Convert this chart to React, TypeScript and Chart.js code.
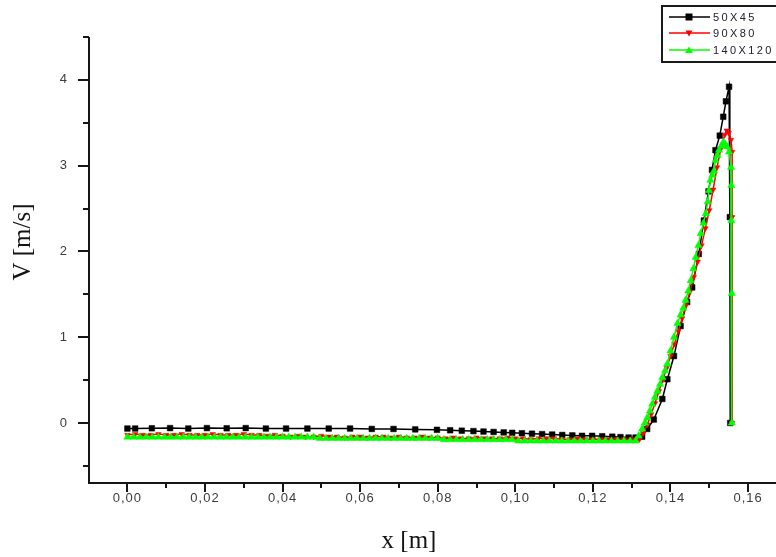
import React, { useEffect, useRef } from 'react';
import { Chart, registerables } from 'chart.js';

Chart.register(...registerables);

// Series labels (mesh sizes)
const seriesLabels = ['50X45', '90X80', '140X120'];
const seriesColors = ['#000000', '#ff0000', '#00ff00'];

// 50X45 mesh: position x [m] and velocity V [m/s]
const blackX = [
  0.0, 0.002, 0.0063, 0.011, 0.0157, 0.0205, 0.0256, 0.0305, 0.0357, 0.0409,
  0.0464, 0.0519, 0.0574, 0.063, 0.0686, 0.0742, 0.0798, 0.0832, 0.0862, 0.0892,
  0.0918, 0.0944, 0.097, 0.0992, 0.1017, 0.1043, 0.1069, 0.1095, 0.1121, 0.1147,
  0.1172, 0.1198, 0.1224, 0.125, 0.1271, 0.1292, 0.131, 0.1327, 0.134, 0.1357,
  0.1379, 0.1392, 0.1409, 0.1426, 0.1443, 0.1456, 0.1473, 0.1486, 0.1498, 0.1507,
  0.1516, 0.1527, 0.1536, 0.1543, 0.1551, 0.1553, 0.1554,
];
const blackV = [
  -0.065, -0.065, -0.062, -0.06, -0.065, -0.06, -0.062, -0.06, -0.065, -0.065,
  -0.065, -0.065, -0.065, -0.07, -0.07, -0.075, -0.08, -0.085, -0.09, -0.095,
  -0.1, -0.105, -0.11, -0.115, -0.12, -0.125, -0.13, -0.135, -0.14, -0.145,
  -0.15, -0.15, -0.155, -0.16, -0.165, -0.17, -0.17, -0.16, -0.07, 0.04,
  0.28, 0.51, 0.78, 1.13, 1.41, 1.58, 1.97, 2.36, 2.7, 2.95,
  3.18, 3.35, 3.57, 3.75, 3.92, 2.4, 0.0,
];

// 90X80 mesh
const redX = [
  0.0, 0.002, 0.004, 0.006, 0.008, 0.01, 0.012, 0.014, 0.016, 0.018,
  0.02, 0.022, 0.024, 0.026, 0.028, 0.03, 0.032, 0.034, 0.036, 0.038,
  0.04, 0.042, 0.044, 0.046, 0.048, 0.05, 0.052, 0.054, 0.056, 0.058,
  0.06, 0.062, 0.064, 0.066, 0.068, 0.07, 0.072, 0.074, 0.076, 0.078,
  0.08, 0.082, 0.084, 0.086, 0.088, 0.09, 0.092, 0.094, 0.096, 0.098,
  0.1, 0.102, 0.104, 0.106, 0.108, 0.11, 0.112, 0.114, 0.116, 0.118,
  0.12, 0.122, 0.124, 0.126, 0.128, 0.13, 0.132, 0.133, 0.134, 0.135,
  0.136, 0.137, 0.138, 0.139, 0.14, 0.141, 0.142, 0.143, 0.144, 0.145,
  0.146, 0.147, 0.148, 0.149, 0.15, 0.151, 0.152, 0.153, 0.154, 0.1545,
  0.155, 0.1556, 0.1559, 0.1559, 0.1559,
];
const redV = [
  -0.14, -0.13, -0.14, -0.14, -0.13, -0.14, -0.14, -0.13, -0.14, -0.14,
  -0.14, -0.13, -0.14, -0.14, -0.14, -0.13, -0.14, -0.14, -0.15, -0.14,
  -0.15, -0.16, -0.15, -0.16, -0.16, -0.15, -0.16, -0.16, -0.17, -0.16,
  -0.16, -0.17, -0.16, -0.16, -0.17, -0.16, -0.17, -0.17, -0.16, -0.17,
  -0.17, -0.18, -0.17, -0.18, -0.18, -0.17, -0.18, -0.18, -0.18, -0.17,
  -0.18, -0.18, -0.19, -0.18, -0.18, -0.18, -0.19, -0.19, -0.18, -0.19,
  -0.19, -0.19, -0.19, -0.19, -0.19, -0.19, -0.19, -0.12, -0.02, 0.1,
  0.23, 0.37, 0.5, 0.64, 0.78, 0.92, 1.07, 1.22, 1.37, 1.53,
  1.7, 1.88, 2.07, 2.27, 2.48, 2.72, 2.98, 3.2, 3.36, 3.41,
  3.38, 3.3, 3.16, 2.4, 0.0,
];

// 140X120 mesh
const greenX = [
  0.0, 0.0016, 0.0032, 0.0048, 0.0064, 0.008, 0.0096, 0.0112, 0.0128, 0.0144,
  0.016, 0.0176, 0.0192, 0.0208, 0.0224, 0.024, 0.0256, 0.0272, 0.0288, 0.0304,
  0.032, 0.0336, 0.0352, 0.0368, 0.0384, 0.04, 0.0416, 0.0432, 0.0448, 0.0464,
  0.048, 0.0496, 0.0512, 0.0528, 0.0544, 0.056, 0.0576, 0.0592, 0.0608, 0.0624,
  0.064, 0.0656, 0.0672, 0.0688, 0.0704, 0.072, 0.0736, 0.0752, 0.0768, 0.0784,
  0.08, 0.0816, 0.0832, 0.0848, 0.0864, 0.088, 0.0896, 0.0912, 0.0928, 0.0944,
  0.096, 0.0976, 0.0992, 0.1008, 0.1024, 0.104, 0.1056, 0.1072, 0.1088, 0.1104,
  0.112, 0.1136, 0.1152, 0.1168, 0.1184, 0.12, 0.1216, 0.1232, 0.1248, 0.1264,
  0.128, 0.1296, 0.131, 0.1318, 0.1327, 0.1334, 0.134, 0.1347, 0.1353, 0.136,
  0.1366, 0.1373, 0.1379, 0.1386, 0.1392, 0.14, 0.1409, 0.1418, 0.1426, 0.1433,
  0.1439, 0.1446, 0.1452, 0.1459, 0.1465, 0.1472, 0.1478, 0.1485, 0.1491, 0.1496,
  0.1499, 0.1503, 0.1508, 0.1512, 0.1516, 0.1521, 0.1525, 0.1531, 0.1536, 0.1541,
  0.1546, 0.1551, 0.1556, 0.1557, 0.1557, 0.1558, 0.1558,
];
const greenV = [
  -0.165, -0.165, -0.165, -0.165, -0.165, -0.165, -0.165, -0.165, -0.165, -0.165,
  -0.165, -0.165, -0.165, -0.165, -0.165, -0.165, -0.165, -0.165, -0.165, -0.165,
  -0.165, -0.165, -0.165, -0.165, -0.165, -0.165, -0.165, -0.165, -0.165, -0.165,
  -0.165, -0.18, -0.18, -0.18, -0.18, -0.18, -0.18, -0.18, -0.18, -0.18,
  -0.18, -0.18, -0.18, -0.18, -0.18, -0.18, -0.18, -0.18, -0.18, -0.18,
  -0.18, -0.195, -0.195, -0.195, -0.195, -0.195, -0.195, -0.195, -0.195, -0.195,
  -0.195, -0.195, -0.195, -0.21, -0.21, -0.21, -0.21, -0.21, -0.21, -0.21,
  -0.21, -0.21, -0.21, -0.21, -0.21, -0.21, -0.21, -0.21, -0.21, -0.21,
  -0.21, -0.21, -0.21, -0.15, -0.07, 0.0, 0.06, 0.14, 0.22, 0.3,
  0.37, 0.45, 0.53, 0.61, 0.69, 0.84, 1.0, 1.16, 1.26, 1.34,
  1.43, 1.54, 1.66, 1.8, 1.93, 2.07, 2.21, 2.33, 2.44, 2.58,
  2.71, 2.83, 2.89, 2.94, 3.06, 3.12, 3.18, 3.23, 3.27, 3.25,
  3.22, 3.16, 2.98, 2.77, 2.36, 1.51, 0.0,
];

// Axis ranges and ticks
const xRange = [-0.0099, 0.1672];
const yRange = [-0.7, 4.5];
const xTickValues = [0, 0.02, 0.04, 0.06, 0.08, 0.1, 0.12, 0.14, 0.16];
const xMinorValues = [0.01, 0.03, 0.05, 0.07, 0.09, 0.11, 0.13, 0.15];
const yTickValues = [0, 1, 2, 3, 4];
const yMinorValues = [-0.5, 0.5, 1.5, 2.5, 3.5, 4.5];

const xTitle = 'x [m]';
const yTitle = 'V [m/s]';

const toPoints = (xs: number[], ys: number[]) => xs.map((x, i) => ({ x, y: ys[i] }));

const drawMarker = (ctx: CanvasRenderingContext2D, kind: number, cx: number, cy: number, color: string) => {
  ctx.fillStyle = color;
  ctx.beginPath();
  if (kind === 0) {
    ctx.rect(cx - 3.5, cy - 3.5, 7, 7);
  } else if (kind === 1) {
    ctx.moveTo(cx - 3.5, cy - 2.5);
    ctx.lineTo(cx + 3.5, cy - 2.5);
    ctx.lineTo(cx, cy + 3.5);
    ctx.closePath();
  } else {
    ctx.moveTo(cx - 4, cy + 3);
    ctx.lineTo(cx + 4, cy + 3);
    ctx.lineTo(cx, cy - 3.5);
    ctx.closePath();
  }
  ctx.fill();
};

// Axis lines, tick marks, axis titles and the boxed legend
const decorations = {
  id: 'decorations',
  beforeDraw(chart: any) {
    chart.ctx.letterSpacing = '1px';
  },
  afterDraw(chart: any) {
    const { ctx, chartArea, scales } = chart;
    const xs = scales.x;
    const ys = scales.y;
    const { left, right, top, bottom } = chartArea;
    ctx.save();
    ctx.letterSpacing = '0px';
    ctx.strokeStyle = '#161616';
    ctx.lineWidth = 2;
    ctx.beginPath();
    ctx.moveTo(left, top);
    ctx.lineTo(left, bottom + 1);
    ctx.moveTo(left - 1, bottom);
    ctx.lineTo(right, bottom);
    for (const v of yTickValues) {
      const p = Math.round(ys.getPixelForValue(v));
      ctx.moveTo(left - 11, p);
      ctx.lineTo(left, p);
    }
    for (const v of yMinorValues) {
      const p = Math.round(ys.getPixelForValue(v));
      ctx.moveTo(left - 6, p);
      ctx.lineTo(left, p);
    }
    for (const v of xTickValues) {
      const p = Math.round(xs.getPixelForValue(v));
      ctx.moveTo(p, bottom);
      ctx.lineTo(p, bottom + 9);
    }
    for (const v of xMinorValues) {
      const p = Math.round(xs.getPixelForValue(v));
      ctx.moveTo(p, bottom);
      ctx.lineTo(p, bottom + 5);
    }
    ctx.stroke();

    // axis titles
    ctx.fillStyle = '#141414';
    ctx.font = '25px "Liberation Serif", "Times New Roman", serif';
    ctx.textAlign = 'center';
    ctx.textBaseline = 'middle';
    ctx.fillText(xTitle, 409, 541);
    ctx.save();
    ctx.translate(23, 242);
    ctx.rotate(-Math.PI / 2);
    ctx.fillText(yTitle, 0, 0);
    ctx.restore();

    // legend box
    ctx.fillStyle = '#ffffff';
    ctx.fillRect(662, 6, 130, 56);
    ctx.strokeStyle = '#1a1a1a';
    ctx.lineWidth = 2;
    ctx.strokeRect(662, 6, 130, 56);
    const rows = [17, 33, 50];
    ctx.font = '11px "Liberation Sans", Arial, sans-serif';
    ctx.textAlign = 'left';
    ctx.letterSpacing = '2.4px';
    chart.data.datasets.forEach((ds: any, i: number) => {
      const yRow = rows[i];
      ctx.strokeStyle = ds.borderColor;
      ctx.lineWidth = 1.5;
      ctx.beginPath();
      ctx.moveTo(669, yRow);
      ctx.lineTo(710, yRow);
      ctx.stroke();
      drawMarker(ctx, i, 689, yRow, ds.borderColor);
      ctx.fillStyle = '#202030';
      ctx.fillText(ds.label, 713, yRow + 1);
    });
    ctx.restore();
  },
};

export default function App() {
  const canvasRef = useRef<HTMLCanvasElement | null>(null);

  useEffect(() => {
    const canvas = canvasRef.current;
    if (!canvas) return;
    const markerStyles = [
      { pointStyle: 'rect', pointRadius: 4, rotation: 0 },
      { pointStyle: 'triangle', pointRadius: 3.2, rotation: 180 },
      { pointStyle: 'triangle', pointRadius: 4.2, rotation: 0 },
    ];
    const seriesData = [
      toPoints(blackX, blackV),
      toPoints(redX, redV),
      toPoints(greenX, greenV),
    ];
    const chart = new Chart(canvas, {
      type: 'line',
      data: {
        datasets: seriesLabels.map((label, i) => ({
          label,
          data: seriesData[i],
          borderColor: seriesColors[i],
          backgroundColor: seriesColors[i],
          pointBackgroundColor: seriesColors[i],
          pointBorderColor: seriesColors[i],
          pointBorderWidth: 0.5,
          borderWidth: 1.5,
          tension: 0,
          order: 3 - i,
          pointStyle: markerStyles[i].pointStyle as any,
          pointRadius: markerStyles[i].pointRadius,
          pointRotation: markerStyles[i].rotation,
        })),
      },
      options: {
        animation: false,
        responsive: false,
        devicePixelRatio: 1,
        layout: { autoPadding: false, padding: { top: 37, left: 0, right: 0, bottom: 0 } },
        plugins: {
          legend: { display: false },
          tooltip: { enabled: false },
        },
        scales: {
          x: {
            type: 'linear',
            min: xRange[0],
            max: xRange[1],
            border: { display: false },
            grid: { display: true, drawOnChartArea: false, drawTicks: false },
            afterFit: (s: any) => {
              s.height = 74;
              s.paddingLeft = 0;
              s.paddingRight = 0;
            },
            afterBuildTicks: (s: any) => {
              s.ticks = xTickValues.map((value) => ({ value }));
            },
            ticks: {
              padding: 8,
              color: '#3c3c3c',
              font: { family: '"Liberation Sans", Arial, sans-serif', size: 13 },
              maxRotation: 0,
              autoSkip: false,
              callback: (v: any) => Number(v).toFixed(2).replace('.', ','),
            },
          },
          y: {
            type: 'linear',
            min: yRange[0],
            max: yRange[1],
            border: { display: false },
            grid: { display: true, drawOnChartArea: false, drawTicks: false },
            afterFit: (s: any) => {
              s.width = 89;
              s.paddingTop = 0;
              s.paddingBottom = 0;
            },
            afterBuildTicks: (s: any) => {
              s.ticks = yTickValues.map((value) => ({ value }));
            },
            ticks: {
              padding: 21,
              color: '#3c3c3c',
              font: { family: '"Liberation Sans", Arial, sans-serif', size: 13 },
              autoSkip: false,
              callback: (v: any) => String(Math.round(Number(v))),
            },
          },
        },
      },
      plugins: [decorations],
    });
    return () => chart.destroy();
  }, []);

  return (
    <div
      style={{
        position: 'fixed',
        left: 0,
        top: 0,
        width: 776,
        height: 557,
        overflow: 'hidden',
        background: '#ffffff',
      }}
    >
      <canvas
        ref={canvasRef}
        width={776}
        height={557}
        style={{ display: 'block', width: 776, height: 557 }}
      />
    </div>
  );
}
